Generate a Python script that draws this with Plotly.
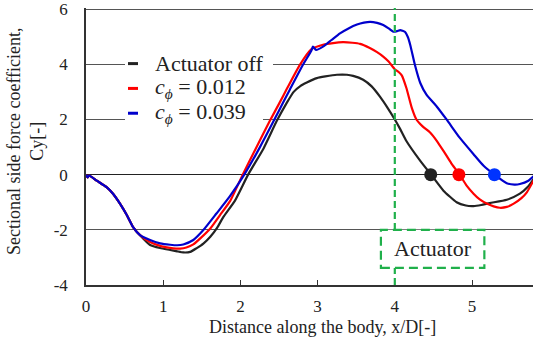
import plotly.graph_objects as go

# ---------------- data ----------------
x_off = [0, 0.02, 0.04, 0.14, 0.27, 0.35, 0.44, 0.53, 0.61, 0.7, 0.83, 0.96, 1.09, 1.18, 1.26,
         1.35, 1.43, 1.52, 1.61, 1.7, 1.78, 1.93, 2.1, 2.3, 2.47, 2.6, 2.69, 2.78, 2.86, 2.99,
         3.1, 3.25, 3.38, 3.46, 3.59, 3.7, 3.81, 3.9, 4.0, 4.07, 4.15, 4.33, 4.47, 4.63, 4.8,
         4.92, 5.02, 5.12, 5.23, 5.45, 5.62, 5.72, 5.8]
y_off = [0, -0.1, -0.03, -0.22, -0.46, -0.69, -1.05, -1.47, -1.9, -2.2, -2.55, -2.66, -2.73, -2.78, -2.82,
         -2.8, -2.67, -2.5, -2.25, -1.92, -1.53, -0.94, 0, 0.95, 1.94, 2.6, 3.0, 3.22, 3.34, 3.5,
         3.56, 3.62, 3.62, 3.58, 3.44, 3.2, 2.82, 2.45, 2.0, 1.65, 1.22, 0.5, 0, -0.58, -1.0,
         -1.12, -1.14, -1.1, -1.03, -0.91, -0.69, -0.45, -0.15]

x_012 = [0, 0.02, 0.04, 0.14, 0.27, 0.35, 0.44, 0.53, 0.61, 0.7, 0.83, 0.98, 1.13, 1.22, 1.3,
         1.39, 1.48, 1.61, 1.74, 1.87, 2.03, 2.2, 2.38, 2.51, 2.6, 2.77, 2.92, 3.07, 3.2, 3.33,
         3.45, 3.55, 3.67, 3.77, 3.85, 3.92, 4.0, 4.05, 4.09, 4.15, 4.22, 4.28, 4.36, 4.46,
         4.55, 4.63, 4.73, 4.84, 4.93, 5.02, 5.1, 5.19, 5.28, 5.36, 5.45, 5.54, 5.64, 5.71, 5.8]
y_012 = [0, -0.1, -0.03, -0.22, -0.46, -0.69, -1.05, -1.47, -1.9, -2.19, -2.44, -2.6, -2.67, -2.68, -2.64,
         -2.53, -2.31, -1.95, -1.45, -0.94, 0, 0.95, 1.94, 2.62, 3.1, 3.98, 4.55, 4.71, 4.77, 4.8,
         4.78, 4.74, 4.6, 4.44, 4.28, 4.1, 3.82, 3.72, 3.6, 3.14, 2.42, 2.0, 1.75, 1.52,
         1.2, 0.86, 0.42, 0, -0.4, -0.69, -0.9, -1.05, -1.15, -1.2, -1.17, -1.05, -0.85, -0.64, -0.2]

x_039 = [0, 0.02, 0.04, 0.14, 0.27, 0.35, 0.44, 0.53, 0.61, 0.7, 0.83, 0.96, 1.09, 1.18, 1.26,
         1.39, 1.52, 1.69, 1.86, 2.05, 2.25, 2.43, 2.55, 2.64, 2.81, 2.92, 2.94, 2.98, 3.07,
         3.18, 3.29, 3.4, 3.51, 3.6, 3.68, 3.77, 3.85, 3.92, 3.98, 4.03, 4.07, 4.13, 4.17,
         4.2, 4.26, 4.33, 4.41, 4.54, 4.67, 4.84, 5.02, 5.15, 5.29, 5.45, 5.55, 5.62, 5.73, 5.8]
y_039 = [0, -0.1, -0.03, -0.22, -0.46, -0.69, -1.05, -1.47, -1.9, -2.19, -2.37, -2.49, -2.54, -2.56, -2.53,
         -2.37, -2.01, -1.41, -0.8, 0, 0.98, 1.94, 2.6, 3.08, 3.98, 4.5, 4.64, 4.52, 4.64,
         4.88, 5.12, 5.3, 5.44, 5.51, 5.54, 5.5, 5.42, 5.3, 5.18, 5.2, 5.24, 5.18, 4.98,
         4.7, 3.98, 3.32, 2.9, 2.48, 2.0, 1.34, 0.74, 0.32, 0, -0.31, -0.36, -0.34, -0.22, -0.05]

# zero-crossing markers
cross_x = [4.465, 4.83, 5.29]
cross_y = [0, 0, 0]

series_names = ["Actuator off", "<i>c</i><sub><i>ϕ</i></sub> = 0.012", "<i>c</i><sub><i>ϕ</i></sub> = 0.039"]
colors = ["#222222", "#ff0000", "#0000cc"]
marker_colors = ["#222222", "#ff0000", "#0033ff"]

x_ticks = [0, 1, 2, 3, 4, 5]
y_ticks = [-4, -2, 0, 2, 4, 6]
actuator_x = 4.0
actuator_box_x = [3.82, 5.16]
actuator_box_y = [-3.38, -2.0]

GREEN = "#20b04b"
FONT = "Liberation Serif"

fig = go.Figure()
for xs, ys, c in zip([x_off, x_012, x_039], [y_off, y_012, y_039], colors):
    fig.add_trace(go.Scatter(x=xs, y=ys, mode="lines",
                             line=dict(color=c, width=2.2, shape="spline", smoothing=0.5),
                             showlegend=False, hoverinfo="skip"))
fig.add_trace(go.Scatter(x=cross_x, y=cross_y, mode="markers",
                         marker=dict(color=marker_colors, size=13),
                         showlegend=False, hoverinfo="skip"))

# geometry helpers (pixel -> paper) for layout-only elements
L, R, T, B = 86, 0, 6, 53
W, H = 533 - L - R, 338 - T - B
def px(xp):
    return (xp - L) / W
def py(yp):
    return (338 - B - yp) / H

shapes = []
shapes.append(dict(type="line", xref="x", yref="paper", x0=actuator_x, x1=actuator_x, y0=0, y1=1,
                   line=dict(color=GREEN, width=2.2, dash="7px,4px"), layer="above"))
shapes.append(dict(type="rect", xref="x", yref="y", x0=actuator_box_x[0], x1=actuator_box_x[1],
                   y0=actuator_box_y[0], y1=actuator_box_y[1], fillcolor="white",
                   line=dict(color=GREEN, width=2.2, dash="9px,5px"), layer="above"))

# custom legend
row_y = [62, 87, 112]
row_right = [273, 268, 263]
for ry, rr in zip(row_y, row_right):
    shapes.append(dict(type="rect", xref="paper", yref="paper", x0=px(125), x1=px(rr),
                       y0=py(ry + 12.5), y1=py(ry - 12.5), fillcolor="white", line=dict(width=0),
                       layer="above"))
for ry, c in zip(row_y, colors):
    shapes.append(dict(type="line", xref="paper", yref="paper", x0=px(128), x1=px(138),
                       y0=py(ry), y1=py(ry), line=dict(color=c, width=3), layer="above"))

annotations = []
for ry, name in zip(row_y, series_names):
    annotations.append(dict(text=name, xref="paper", yref="paper", x=px(153), y=py(ry),
                            xanchor="left", yanchor="middle", showarrow=False,
                            font=dict(family=FONT, size=22, color="#222")))
annotations.append(dict(text="Actuator", xref="x", yref="y",
                        x=(actuator_box_x[0] + actuator_box_x[1]) / 2,
                        y=(actuator_box_y[0] + actuator_box_y[1]) / 2,
                        xanchor="center", yanchor="middle", showarrow=False,
                        font=dict(family=FONT, size=22, color="#222")))
annotations.append(dict(text="Distance along the body, x/D[-]", xref="paper", yref="paper",
                        x=px(322), y=py(327), xanchor="center", yanchor="middle", showarrow=False,
                        font=dict(family=FONT, size=18, color="#222")))
annotations.append(dict(text="Sectional side force coefficient,<br>Cy[-]", xref="paper", yref="paper",
                        x=px(25), y=py(140), xanchor="center", yanchor="middle", showarrow=False,
                        textangle=-90, font=dict(family=FONT, size=18, color="#222")))

fig.update_layout(
    width=533, height=338,
    margin=dict(l=L, r=R, t=T, b=B),
    paper_bgcolor="white", plot_bgcolor="white",
    font=dict(family=FONT, size=17, color="#222"),
    shapes=shapes, annotations=annotations,
    xaxis=dict(range=[0, 5.79], tickvals=x_ticks, ticktext=[str(v) for v in x_ticks],
               showgrid=False, zeroline=False, showline=True, linecolor="#333", linewidth=1.5,
               ticks="inside", ticklen=5, tickcolor="#333", tickwidth=1,
               ticklabelstandoff=5, tickfont=dict(family=FONT, size=17, color="#222")),
    yaxis=dict(range=[-4, 6.04], tickvals=y_ticks, ticktext=[str(v) for v in y_ticks],
               showgrid=True, gridcolor="#555", gridwidth=1,
               zeroline=True, zerolinecolor="#222", zerolinewidth=1.2,
               showline=True, linecolor="#333", linewidth=1.5, ticks="",
               ticklabeloverflow="allow",
               ticklabelstandoff=13, tickfont=dict(family=FONT, size=17, color="#222")),
)

fig.write_html("out.html")
